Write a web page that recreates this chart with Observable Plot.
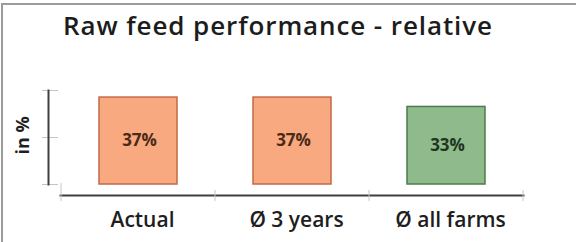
<!DOCTYPE html>
<html><head><meta charset="utf-8">
<script src="https://cdn.jsdelivr.net/npm/d3@7"></script>
<script src="https://cdn.jsdelivr.net/npm/@observablehq/plot@0.6"></script>
<style>
html,body{margin:0;padding:0;background:#fff;}
#wrap{position:relative;width:576px;height:242px;overflow:hidden;font-family:"Open Sans",sans-serif;}
#frame{position:absolute;left:1px;top:3px;right:-5px;bottom:-5px;border-top:2px solid #9c9c9c;border-left:2px solid #9c9c9c;pointer-events:none;}
#title{position:absolute;top:12px;left:0;width:556px;height:32px;text-align:center;font-size:26px;font-weight:600;letter-spacing:0.9px;line-height:26px;color:#1c1c1c;white-space:nowrap;}
#chart{position:absolute;top:62px;left:0;}
</style>
</head><body>
<div id="wrap">
  <div id="title">Raw feed performance - relative</div>
  <div id="chart"></div>
  <div id="frame"></div>
</div>
<script>
const categories = ["Actual", "Ø 3 years", "Ø all farms"];
const values = [37, 37, 33];
const valueLabels = ["37%", "37%", "33%"];
const fillColors = ["#F9A97F", "#F9A97F", "#8FBB8C"];
const strokeColors = ["#C46A44", "#C46A44", "#4E7B4D"];
const labelColors = ["#4a2a18", "#4a2a18", "#1f351f"];
const yTicks = [0, 20, 40];
const yLabel = "in %";

const data = categories.map((c, i) => ({
  cat: c, value: values[i], label: valueLabels[i],
  fill: fillColors[i], stroke: strokeColors[i], textColor: labelColors[i]
}));

const chart = Plot.plot({
  width: 576, height: 180,
  marginTop: 28, marginBottom: 58, marginLeft: 60, marginRight: 53,
  style: {fontFamily: "'Open Sans', sans-serif", background: "transparent"},
  x: {domain: categories, padding: 0, axis: null},
  y: {domain: [0, 40], axis: null},
  color: {type: "identity"},
  marks: [
    Plot.axisY({ticks: yTicks, tickFormat: () => "", tickSize: 16, dx: -2, stroke: "#c4c4c4", label: null}),
    Plot.frame({anchor: "left", dx: -12, stroke: "#3f3f3f", strokeWidth: 2}),
    Plot.frame({anchor: "bottom", dy: 11, stroke: "#3f3f3f", strokeWidth: 2}),
    Plot.barY(data, {x: "cat", y: "value", fill: "fill", stroke: "stroke", strokeWidth: 1.5, insetLeft: 38, insetRight: 38}),
    Plot.text(data, {x: "cat", y: d => d.value / 2, text: "label", fill: "textColor", fontWeight: "bold", fontSize: 17, dx: 1}),
    Plot.axisX({tickSize: 0, tickPadding: 28, fontSize: 21, fontWeight: 600, fill: "#1e1e1e", label: null, dx: 4,
      style: {letterSpacing: "1px"}}),
    Plot.text([yLabel], {frameAnchor: "left", textAnchor: "middle", rotate: -90, dx: -37, dy: -2, fontWeight: "bold", fontSize: 18, fill: "#1e1e1e"})
  ]
});
document.getElementById("chart").appendChild(chart);

// faint band-boundary ticks on the x axis line, positioned by the plot's x scale
const xs = chart.scale("x");
const bounds = categories.map(c => xs.apply(c)).concat([xs.apply(categories[categories.length - 1]) + xs.bandwidth]);
const ys = chart.scale("y");
const base = ys.apply(0) + 11;
d3.select(chart).append("g")
  .attr("stroke", "#c8c8c8").attr("stroke-width", 1)
  .selectAll("line").data(bounds).join("line")
  .attr("x1", d => d).attr("x2", d => d)
  .attr("y1", (d, i) => i === 0 ? base - 12 : base - 5)
  .attr("y2", base + 6);
</script>
</body></html>
